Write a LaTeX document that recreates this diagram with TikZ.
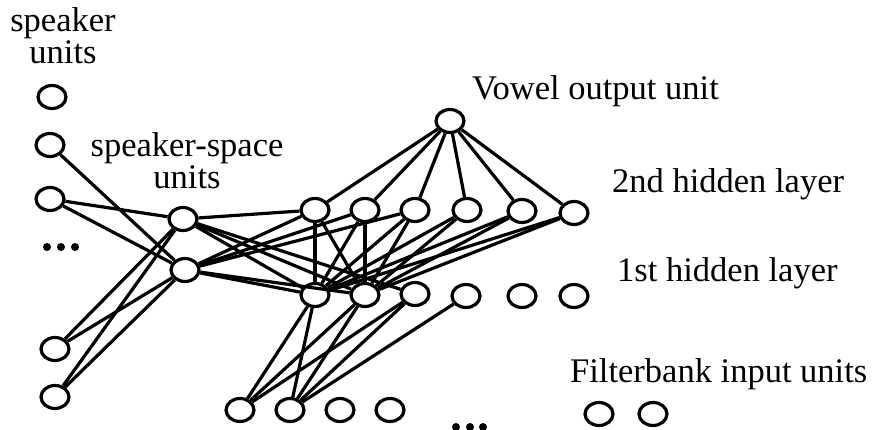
\documentclass[tikz,border=0pt]{standalone}
\usepackage{fontspec}
\setmainfont{Liberation Serif}
\usetikzlibrary{shapes.geometric}
\begin{document}
\begin{tikzpicture}[x=1pt,y=-1pt,
  unit/.style={draw, ellipse, line width=3.2pt, minimum width=28pt, minimum height=23pt, inner sep=0pt},
  link/.style={line width=3.2pt},
  lbl/.style={inner sep=0pt, font=\fontsize{34.5}{32}\selectfont},
  dot/.style={fill=black},
]
\useasboundingbox (0,0) rectangle (876,430);

% speaker units
\node[unit] (s1) at (52,97) {};
\node[unit] (s2) at (50,145) {};
\node[unit] (s3) at (50,199) {};
\node[unit] (s4) at (55,349) {};
\node[unit] (s5) at (55,397) {};

% speaker-space units
\node[unit] (ss1) at (183,219) {};
\node[unit] (ss2) at (185,270) {};

% vowel output unit
\node[unit] (out) at (450,121) {};

% 2nd hidden layer
\node[unit] (a1) at (315,210) {};
\node[unit] (a2) at (365,210) {};
\node[unit] (a3) at (415,210) {};
\node[unit] (a4) at (467,210) {};
\node[unit] (a5) at (522,211) {};
\node[unit] (a6) at (574,213) {};

% 1st hidden layer
\node[unit] (b1) at (315,295) {};
\node[unit] (b2) at (365,295) {};
\node[unit] (b3) at (415,294) {};
\node[unit] (b4) at (466,296) {};
\node[unit] (b5) at (522,296) {};
\node[unit] (b6) at (574,296) {};

% filterbank input units
\node[unit] (i1) at (240,410) {};
\node[unit] (i2) at (290,410) {};
\node[unit] (i3) at (340,410) {};
\node[unit] (i4) at (390,410) {};
\node[unit] (i5) at (599,414) {};
\node[unit] (i6) at (653,414) {};

% ellipses marking omitted units
\foreach \x in {47,61,75} \fill[dot] (\x,247) circle (4);
\foreach \x in {456,470,483} \fill[dot] (\x,427) circle (4);

% output to 2nd hidden layer
\foreach \n in {a1,a2,a3,a4,a5,a6} \draw[link] (out) -- (\n);

% speaker units to speaker-space units
\draw[link] (s2) -- (ss2);
\draw[link] (s3) -- (ss1);
\draw[link] (s3) -- (ss2);
\draw[link] (s4) -- (ss1);
\draw[link] (s4) -- (ss2);
\draw[link] (s5) -- (ss1);
\draw[link] (s5) -- (ss2);

% speaker-space units to hidden layers
\draw[link] (ss1) -- (a1);
\draw[link] (ss1) -- (b1);
\draw[link] (ss1) -- (b2);
\draw[link] (ss1) -- (b3);
\draw[link] (ss2) -- (a1);
\draw[link] (ss2) -- (a2);
\draw[link] (ss2) -- (a3);
\draw[link] (ss2) -- (b1);
\draw[link] (ss2) -- (b2);

% 2nd hidden layer to 1st hidden layer
\foreach \n in {a1,a2,a3,a4,a5,a6} {
  \draw[link] (\n) -- (b1);
  \draw[link] (\n) -- (b2);
}

% input units to 1st hidden layer
\draw[link] (i1) -- (b1);
\draw[link] (i1) -- (b2);
\draw[link] (i1) -- (b3);
\draw[link] (i2) -- (b1);
\draw[link] (i2) -- (b2);
\draw[link] (i2) -- (b3);
\draw[link] (i2) -- (b4);

% labels (base anchor sits on the last line)
\node[lbl, align=center, anchor=base] (tspk) at (63,64) {speaker\\units};
\node[lbl, align=center, anchor=base] (tss) at (187,189) {speaker-space\\units};
\node[lbl, anchor=base west] (tout) at (472,100) {Vowel output unit};
\node[lbl, anchor=base west] (th2) at (612,193) {2nd hidden layer};
\node[lbl, anchor=base west] (th1) at (617,282) {1st hidden layer};
\node[lbl, anchor=base west] (tin) at (570,383) {Filterbank input units};
\end{tikzpicture}
\end{document}
